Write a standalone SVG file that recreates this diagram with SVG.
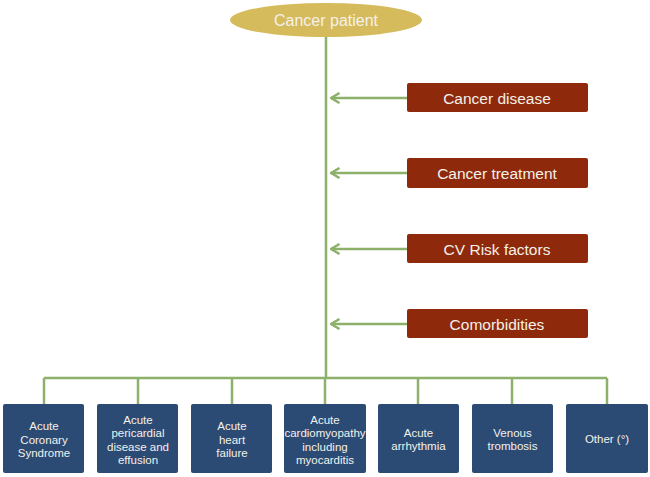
<svg xmlns="http://www.w3.org/2000/svg" width="650" height="477" viewBox="0 0 650 477">
<style>
.t{font-family:"Liberation Sans",Arial,sans-serif;fill:#f4f1ea;text-anchor:middle}
.f{fill:#8E2A0B}
.b{fill:#2B4A74}
.c{stroke:#8DB06B;stroke-width:2.5;fill:none}
</style>
<defs>
<marker id="ah" markerWidth="12" markerHeight="12" refX="10.5" refY="6" orient="auto" markerUnits="userSpaceOnUse">
<path d="M2,1 L10.5,6 L2,11" fill="none" stroke="#8DB06B" stroke-width="2.5"/>
</marker>
</defs>
<g id="connectors" class="c">
<line x1="326" y1="37" x2="326" y2="378"/>
<line x1="44" y1="378" x2="607" y2="378"/>
<line x1="44" y1="378" x2="44" y2="404"/>
<line x1="138" y1="378" x2="138" y2="404"/>
<line x1="232" y1="378" x2="232" y2="404"/>
<line x1="325" y1="378" x2="325" y2="404"/>
<line x1="418" y1="378" x2="418" y2="404"/>
<line x1="512" y1="378" x2="512" y2="404"/>
<line x1="607" y1="378" x2="607" y2="404"/>
<line x1="407" y1="98" x2="331" y2="98" marker-end="url(#ah)"/>
<line x1="407" y1="173" x2="331" y2="173" marker-end="url(#ah)"/>
<line x1="407" y1="249" x2="331" y2="249" marker-end="url(#ah)"/>
<line x1="407" y1="324" x2="331" y2="324" marker-end="url(#ah)"/>
</g>
<g id="patient">
<ellipse cx="326" cy="20" rx="96" ry="17" fill="#D6BB5C"/>
<text class="t" x="326" y="26" font-size="16">Cancer patient</text>
</g>
<g id="disease"><rect class="f" x="407" y="83" width="181" height="29" rx="2"/><text class="t" x="497" y="103.5" font-size="15.5">Cancer disease</text></g>
<g id="treatment"><rect class="f" x="407" y="158" width="181" height="30" rx="2"/><text class="t" x="497" y="179" font-size="15.5">Cancer treatment</text></g>
<g id="risk"><rect class="f" x="407" y="234" width="181" height="29" rx="2"/><text class="t" x="497" y="254.5" font-size="15.5">CV Risk factors</text></g>
<g id="comorb"><rect class="f" x="407" y="309" width="181" height="29" rx="2"/><text class="t" x="497" y="329.5" font-size="15.5">Comorbidities</text></g>
<g id="acs"><rect class="b" x="3" y="404" width="81" height="69" rx="2"/><text class="t" font-size="11.5"><tspan x="44" y="430">Acute</tspan><tspan x="44" y="443.5">Coronary</tspan><tspan x="44" y="457">Syndrome</tspan></text></g>
<g id="pericardial"><rect class="b" x="97" y="404" width="81" height="69" rx="2"/><text class="t" font-size="11.5"><tspan x="138" y="423.5">Acute</tspan><tspan x="138" y="437">pericardial</tspan><tspan x="138" y="450.5">disease and</tspan><tspan x="138" y="464">effusion</tspan></text></g>
<g id="hf"><rect class="b" x="191" y="404" width="81" height="69" rx="2"/><text class="t" font-size="11.5"><tspan x="232" y="430">Acute</tspan><tspan x="232" y="443.5">heart</tspan><tspan x="232" y="457">failure</tspan></text></g>
<g id="cardiomyopathy"><rect class="b" x="284" y="404" width="82" height="69" rx="2"/><text class="t" font-size="11.5"><tspan x="325" y="423.5">Acute</tspan><tspan x="325" y="437">cardiomyopathy</tspan><tspan x="325" y="450.5">including</tspan><tspan x="325" y="464">myocarditis</tspan></text></g>
<g id="arrhythmia"><rect class="b" x="378" y="404" width="81" height="69" rx="2"/><text class="t" font-size="11.5"><tspan x="418.5" y="436.5">Acute</tspan><tspan x="418.5" y="450">arrhythmia</tspan></text></g>
<g id="venous"><rect class="b" x="472" y="404" width="81" height="69" rx="2"/><text class="t" font-size="11.5"><tspan x="512.5" y="436.5">Venous</tspan><tspan x="512.5" y="450">trombosis</tspan></text></g>
<g id="other"><rect class="b" x="566" y="404" width="82" height="69" rx="2"/><text class="t" x="607" y="443" font-size="11.5">Other (°)</text></g>
</svg>
